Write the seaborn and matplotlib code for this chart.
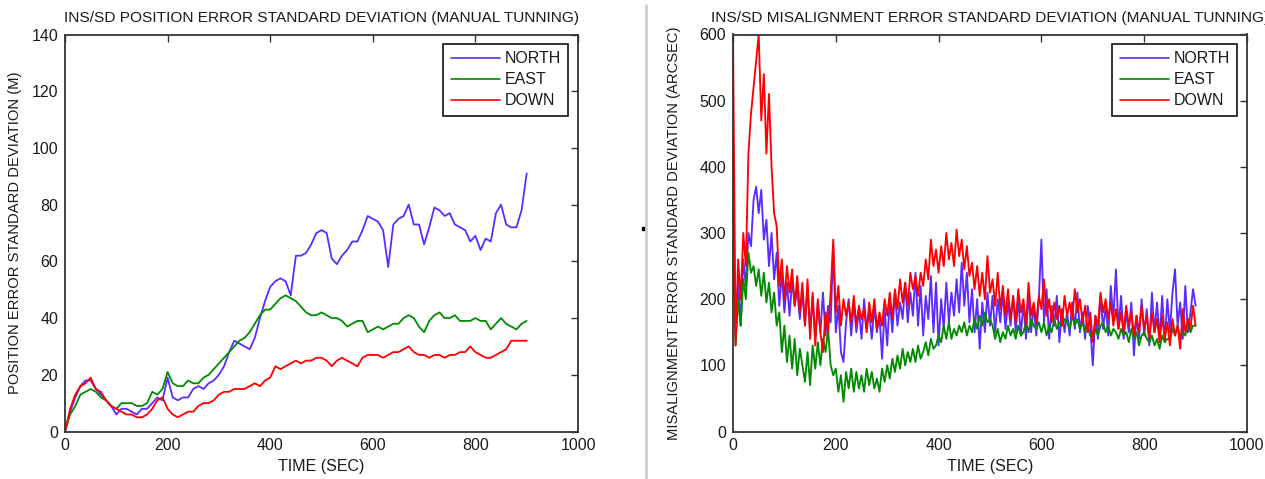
import numpy as np
import pandas as pd
import matplotlib
matplotlib.use("Agg")
import matplotlib.pyplot as plt
import seaborn as sns
from matplotlib.lines import Line2D
from matplotlib.patches import Rectangle

# ---------------- data ----------------
series_names = ["NORTH", "EAST", "DOWN"]
series_colors = ["#5b2bff", "#008c00", "#ff0000"]

# position error std (m), sampled every 10 s from 0 to 900 s
pos_north = [
    0, 7, 12, 16, 18, 18, 15, 13, 11, 9,
    6, 8, 8, 7, 6, 8, 8, 10, 12, 11,
    19, 12, 11, 12, 12, 15, 16, 15, 17, 18,
    20, 23, 28, 32, 31, 30, 29, 33, 40, 46,
    51, 53, 54, 53, 48, 62, 62, 63, 66, 70,
    71, 70, 61, 59, 62, 64, 67, 67, 71, 76,
    75, 74, 71, 58, 73, 75, 76, 80, 73, 73,
    66, 72, 79, 78, 76, 77, 73, 72, 71, 67,
    69, 64, 68, 67, 77, 80, 73, 72, 72, 78,
    91,
]
pos_east = [
    0, 6, 9, 13, 14, 15, 14, 12, 11, 9,
    8, 10, 10, 10, 9, 9, 10, 14, 13, 15,
    21, 17, 16, 16, 18, 17, 17, 19, 20, 22,
    24, 26, 28, 30, 32, 33, 35, 38, 41, 43,
    43, 45, 47, 48, 47, 46, 44, 42, 41, 41,
    42, 41, 40, 40, 39, 37, 38, 39, 39, 35,
    36, 37, 36, 37, 38, 38, 40, 41, 40, 37,
    35, 39, 41, 42, 40, 40, 41, 39, 39, 39,
    40, 39, 39, 36, 38, 40, 38, 37, 36, 38,
    39,
]
pos_down = [
    0, 8, 13, 16, 17, 19, 15, 14, 11, 9,
    8, 7, 6, 6, 5, 5, 6, 8, 11, 12,
    8, 6, 5, 6, 7, 7, 9, 10, 10, 11,
    13, 14, 14, 15, 15, 15, 16, 17, 16, 18,
    19, 23, 22, 23, 24, 25, 24, 25, 25, 26,
    26, 25, 23, 25, 26, 25, 24, 23, 26, 27,
    27, 27, 26, 27, 28, 28, 29, 30, 28, 27,
    27, 26, 27, 27, 26, 27, 27, 28, 28, 30,
    28, 27, 26, 26, 27, 28, 29, 32, 32, 32,
    32,
]

# misalignment error std (arcsec), sampled every 5 s from 0 to 900 s
att_north = [
    250, 140, 230, 160, 260, 220, 300, 280, 350, 370,
    330, 365, 290, 320, 250, 300, 230, 270, 190, 240,
    180, 225, 175, 230, 190, 215, 170, 210, 160, 220,
    150, 205, 140, 195, 150, 210, 145, 190, 165, 280,
    150, 190, 120, 105, 165, 200, 145, 195, 150, 185,
    140, 200, 155, 180, 140, 190, 150, 175, 110, 185,
    130, 200, 150, 210, 160, 195, 170, 225, 165, 210,
    175, 240, 160, 220, 145, 205, 170, 235, 150, 225,
    130, 200, 155, 225, 165, 210, 175, 230, 180, 255,
    190, 240, 165, 215, 150, 200, 125, 195, 150, 210,
    160, 205, 150, 200, 165, 210, 155, 195, 160, 205,
    150, 200, 145, 195, 140, 210, 150, 190, 145, 200,
    290, 165, 215, 140, 190, 160, 205, 135, 185, 150,
    180, 145, 195, 155, 210, 150, 180, 140, 190, 160,
    100, 175, 140, 205, 155, 190, 145, 220, 170, 245,
    155, 205, 140, 180, 150, 195, 115, 175, 140, 200,
    145, 185, 130, 210, 150, 195, 140, 205, 135, 200,
    150, 210, 245, 160, 195, 140, 220, 150, 180, 215,
    190,
]
att_east = [
    430, 130, 200, 160, 230, 200, 270, 240, 250, 220,
    245, 205, 240, 195, 225, 180, 210, 160, 180, 120,
    160, 105, 145, 95, 140, 85, 125, 100, 75, 120,
    70, 130, 95, 135, 100, 140, 120, 155, 100, 85,
    95, 60, 85, 45, 90, 65, 95, 60, 90, 65,
    85, 60, 95, 70, 90, 65, 80, 60, 95, 75,
    100, 80, 110, 90, 115, 95, 125, 100, 120, 105,
    125, 105, 130, 110, 120, 135, 115, 140, 125, 130,
    145, 135, 160, 140, 165, 140, 155, 145, 160, 150,
    165, 145, 160, 150, 170, 155, 175, 160, 180, 165,
    170, 160, 140, 155, 135, 150, 140, 160, 145, 155,
    140, 160, 145, 150, 165, 150, 170, 160, 155, 165,
    150, 165, 145, 160, 150, 170, 155, 165, 160, 170,
    165, 155, 175, 160, 170, 155, 165, 150, 160, 145,
    140, 155, 145, 160, 165, 150, 160, 145, 155, 150,
    140, 155, 145, 150, 135, 155, 140, 150, 130, 145,
    150, 140, 135, 145, 130, 140, 125, 145, 135, 140,
    140, 155, 145, 160, 140, 150, 145, 165, 150, 160,
    160,
]
att_down = [
    600, 130, 260, 200, 300, 250, 420, 480, 520, 560,
    600, 470, 540, 420, 510, 400, 330, 310, 220, 260,
    200, 250, 210, 245, 190, 235, 180, 225, 160, 230,
    140, 210, 130, 200, 150, 120, 180, 150, 210, 290,
    180, 220, 160, 200, 175, 195, 165, 205, 160, 190,
    170, 185, 150, 195, 165, 200, 155, 180, 160, 200,
    175, 210, 170, 215, 185, 230, 195, 225, 190, 240,
    215, 235, 205, 240, 220, 260, 230, 290, 250, 275,
    240, 280, 250, 300, 260, 285, 250, 305, 265, 290,
    245, 280, 235, 255, 215, 250, 205, 240, 200, 265,
    210, 230, 190, 240, 185, 220, 175, 215, 170, 205,
    165, 215, 180, 200, 160, 225, 175, 195, 165, 205,
    185, 230, 175, 200, 165, 195, 170, 190, 160, 205,
    175, 195, 170, 215, 180, 200, 165, 190, 150, 180,
    135, 175, 160, 210, 180, 200, 170, 195, 160, 185,
    155, 180, 150, 190, 160, 180, 145, 175, 150, 190,
    155, 175, 140, 180, 150, 170, 135, 175, 140, 165,
    130, 170, 145, 160, 125, 185, 150, 170, 155, 190,
    160,
]

pos_time = np.arange(len(pos_north)) * 10
att_time = np.arange(len(att_north)) * 5

x_ticks = [0, 200, 400, 600, 800, 1000]
pos_ticks = [0, 20, 40, 60, 80, 100, 120, 140]
att_ticks = [0, 100, 200, 300, 400, 500, 600]


def long_frame(t, cols):
    return pd.DataFrame({
        "time": np.tile(t, len(cols)),
        "value": np.concatenate([np.asarray(c, float) for c in cols]),
        "axis": np.repeat(series_names, len(t)),
    })


pos_df = long_frame(pos_time, [pos_north, pos_east, pos_down])
att_df = long_frame(att_time, [att_north, att_east, att_down])

# ---------------- style ----------------
sns.set_style("white")
plt.rcParams["font.family"] = ["Liberation Sans", "DejaVu Sans"]
plt.rcParams["text.color"] = "#1a1a1a"
plt.rcParams["axes.labelcolor"] = "#1a1a1a"

fig = plt.figure(figsize=(12.65, 4.79), dpi=100)
ax1 = fig.add_axes([65 / 1265, 47.5 / 479, 513 / 1265, 397 / 479])
ax2 = fig.add_axes([733 / 1265, 47.5 / 479, 514 / 1265, 397 / 479])

palette = dict(zip(series_names, series_colors))


def draw(ax, df, lw, ylim, yticks, title, ylabel, ylabelpad):
    sns.lineplot(data=df, x="time", y="value", hue="axis", hue_order=series_names,
                 palette=palette, estimator=None, sort=False, linewidth=lw, ax=ax)
    ax.set_xlim(0, 1000)
    ax.set_ylim(*ylim)
    ax.set_xticks(x_ticks)
    ax.set_yticks(yticks)
    ax.tick_params(direction="in", top=True, right=True, length=5, width=1,
                   color="#333333", labelsize=11.5, labelcolor="#1a1a1a", pad=5)
    for s in ax.spines.values():
        s.set_color("#333333")
        s.set_linewidth(1.3)
    ax.set_title(title, fontsize=11.1, pad=9, color="#1a1a1a")
    ax.set_xlabel("TIME (SEC)", fontsize=11.5, labelpad=4)
    ax.set_ylabel(ylabel, fontsize=10.6, labelpad=ylabelpad)
    handles = [Line2D([0], [0], color=c, lw=1.2) for c in series_colors]
    leg = ax.legend(handles, series_names, loc="upper right", fontsize=11.5,
                    frameon=True, fancybox=False, framealpha=1, edgecolor="#111111",
                    handlelength=3.1, handletextpad=0.3, labelspacing=0.38,
                    borderaxespad=0.6, borderpad=0.45)
    leg.get_frame().set_linewidth(1.2)


draw(ax1, pos_df, 1.3, (0, 140), pos_ticks,
     "INS/SD POSITION ERROR STANDARD DEVIATION (MANUAL TUNNING)",
     "POSITION ERROR STANDARD DEVIATION (M)", 7)
draw(ax2, att_df, 1.35, (0, 600), att_ticks,
     "INS/SD MISALIGNMENT ERROR STANDARD DEVIATION (MANUAL TUNNING)",
     "MISALIGNMENT ERROR STANDARD DEVIATION (ARCSEC)", 13)

# divider between the two panels
fig.add_artist(Line2D([646 / 1265, 646 / 1265], [0, 1 - 5 / 479],
                      transform=fig.transFigure, color="#cfcfcf", lw=2))
fig.add_artist(Rectangle((642 / 1265, 1 - 230 / 479), 3 / 1265, 3 / 479,
                         transform=fig.transFigure, color="black"))

fig.savefig("out.png", dpi=100, facecolor="white")
